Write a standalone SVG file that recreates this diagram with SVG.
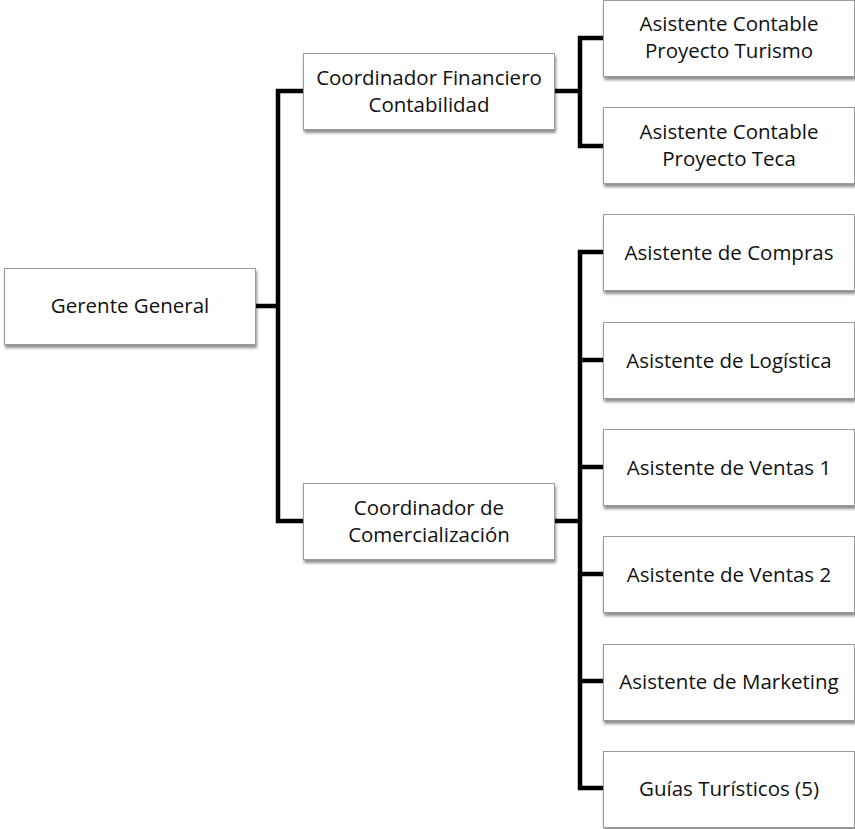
<svg xmlns="http://www.w3.org/2000/svg" width="855" height="829" viewBox="0 0 855 829">
<defs>
<filter id="sh" x="-5%" y="-10%" width="115%" height="130%">
<feGaussianBlur in="SourceAlpha" stdDeviation="1.5"/>
<feOffset dx="1" dy="2.5" result="b"/>
<feComponentTransfer><feFuncA type="linear" slope="0.45"/></feComponentTransfer>
<feMerge><feMergeNode/><feMergeNode in="SourceGraphic"/></feMerge>
</filter>
</defs>
<style>
.box{fill:#fff;stroke:#9a9a9a;stroke-width:1;filter:url(#sh)}
.t{font-family:"Open Sans","Noto Sans",sans-serif;font-size:20.5px;fill:#111;text-anchor:middle}
.c{fill:none;stroke:#000;stroke-width:4.5;stroke-linejoin:miter}
</style>
<g id="connectors">
<path class="c" d="M255 306 H278"/>
<path class="c" d="M303 91 H278 V521 H303"/>
<path class="c" d="M554 91 H580"/>
<path class="c" d="M603 38 H580 V146 H603"/>
<path class="c" d="M554 521 H580"/>
<path class="c" d="M603 252 H580 V788 H603"/>
<path class="c" d="M580 360 H603 M580 467 H603 M580 574 H603 M580 681 H603"/>
</g>
<g id="gerente"><rect class="box" x="4.5" y="268.5" width="251" height="76"/><text class="t" x="130" y="313">Gerente General</text></g>
<g id="coord-fin"><rect class="box" x="303.5" y="53.5" width="251" height="76"/><text class="t" x="429" y="85">Coordinador Financiero</text><text class="t" x="429" y="112">Contabilidad</text></g>
<g id="coord-com"><rect class="box" x="303.5" y="483.5" width="251" height="76"/><text class="t" x="429" y="515">Coordinador de</text><text class="t" x="429" y="542">Comercialización</text></g>
<g id="asis-turismo"><rect class="box" x="603.5" y="0.5" width="251" height="76"/><text class="t" x="729" y="31">Asistente Contable</text><text class="t" x="729" y="58">Proyecto Turismo</text></g>
<g id="asis-teca"><rect class="box" x="603.5" y="107.5" width="251" height="76"/><text class="t" x="729" y="139">Asistente Contable</text><text class="t" x="729" y="166">Proyecto Teca</text></g>
<g id="asis-compras"><rect class="box" x="603.5" y="214.5" width="251" height="76"/><text class="t" x="729" y="260">Asistente de Compras</text></g>
<g id="asis-logistica"><rect class="box" x="603.5" y="322.5" width="251" height="76"/><text class="t" x="729" y="368">Asistente de Logística</text></g>
<g id="asis-ventas1"><rect class="box" x="603.5" y="429.5" width="251" height="76"/><text class="t" x="729" y="475">Asistente de Ventas 1</text></g>
<g id="asis-ventas2"><rect class="box" x="603.5" y="536.5" width="251" height="76"/><text class="t" x="729" y="582">Asistente de Ventas 2</text></g>
<g id="asis-marketing"><rect class="box" x="603.5" y="644.5" width="251" height="76"/><text class="t" x="729" y="689">Asistente de Marketing</text></g>
<g id="guias"><rect class="box" x="603.5" y="751.5" width="251" height="76"/><text class="t" x="729" y="796">Guías Turísticos (5)</text></g>
</svg>
